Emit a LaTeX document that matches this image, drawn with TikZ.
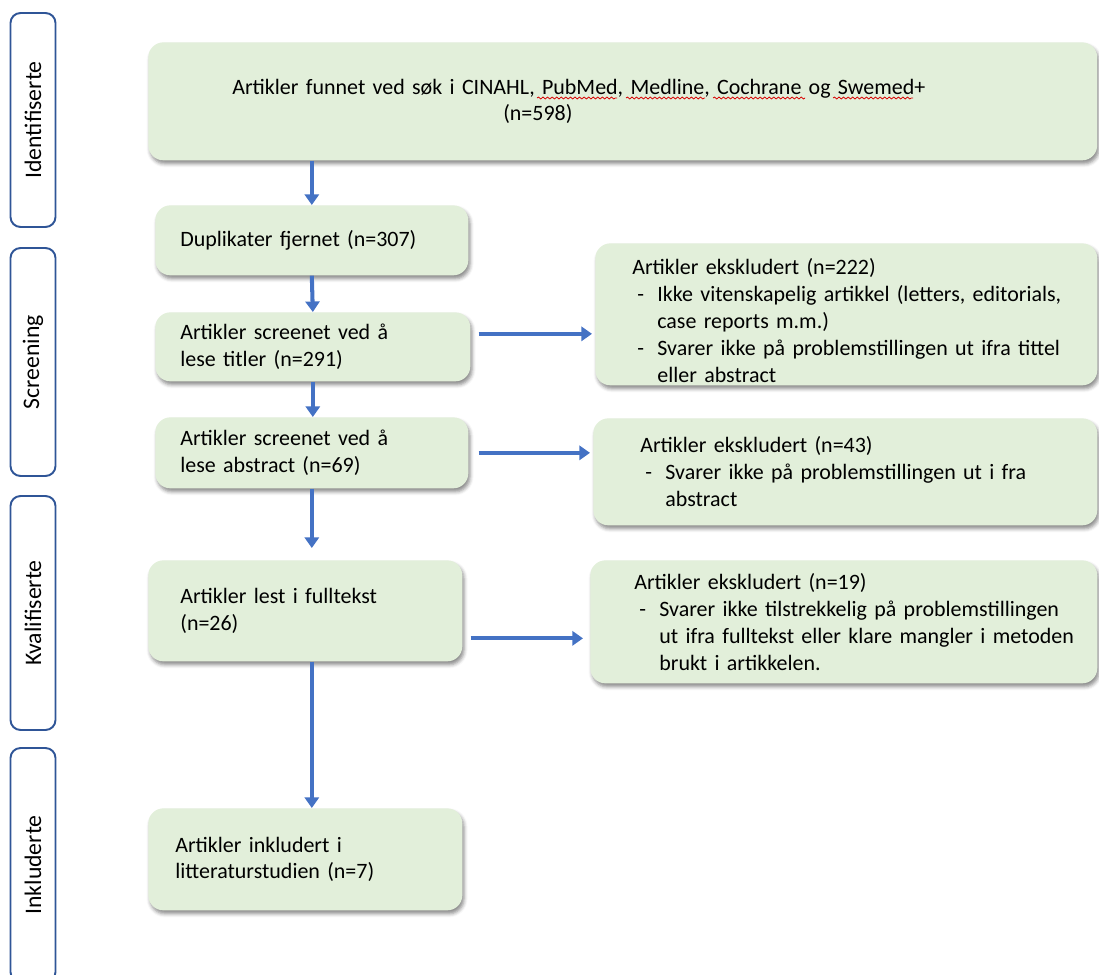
\documentclass[tikz,border=0pt]{standalone}
\usepackage{fontspec}
\setmainfont{Carlito}
\usetikzlibrary{shadows,shadows.blur,arrows.meta,calc,decorations.pathmorphing}
\definecolor{boxgreen}{HTML}{E2EFDA}
\definecolor{flowblue}{HTML}{4472C4}
\definecolor{phaseblue}{HTML}{2F5597}
\newcommand{\exitem}[1]{\mbox{\makebox[0.5cm][l]{\hspace{0.1cm}-}#1}}
\newcommand{\exmore}[1]{\mbox{\hspace*{0.5cm}#1}}
\tikzstyle{stage}=[anchor=north west, rounded corners=0.3cm, fill=boxgreen, align=left, inner ysep=0pt,
  blur shadow={shadow xshift=1pt, shadow yshift=-2pt, shadow blur radius=2pt, shadow opacity=45},
  font=\fontsize{12.5}{15.3}\selectfont]
\tikzstyle{phase}=[draw=phaseblue, line width=1.1pt, rounded corners=0.2cm, rotate=90,
  minimum height=0.9cm, inner sep=0pt, font=\fontsize{13.5}{16}\selectfont]
\tikzstyle{flow}=[draw=flowblue, line width=2.3pt, -{Triangle[length=6pt,width=8pt]}]
\tikzstyle{spell}=[draw=red!85!black, line width=0.45pt, decorate,
  decoration={snake, amplitude=0.55pt, segment length=2.6pt}]

\begin{document}
\begin{tikzpicture}[x=0.02cm, y=-0.02cm]
    \useasboundingbox (0,0) rectangle (1099,974);

    % phases on the left
    \node[phase, minimum width=4.28cm] (identph) at (33,120) {Identifiserte};
    \node[phase, minimum width=4.56cm] (screenph) at (33,362) {Screening};
    \node[phase, minimum width=4.68cm] (kvalph) at (33,613) {Kvalifiserte};
    \node[phase, minimum width=4.68cm] (inklph) at (33,865) {Inkluderte};

    % main flow
    \node[stage, minimum height=2.36cm, inner xsep=1.68cm, text width=15.62cm] (found) at (148,42)
        {Artikler funnet ved søk i CINAHL, PubMed, Medline, Cochrane og Swemed+\\\hspace*{5.42cm}(n=598)};
    \node[stage, minimum height=1.4cm, inner xsep=0.5cm, text width=5.26cm] (dup) at (155,205)
        {Duplikater fjernet (n=307)};
    \node[stage, minimum height=1.38cm, inner xsep=0.5cm, text width=5.3cm] (titles) at (155,312)
        {Artikler screenet ved å\\lese titler (n=291)};
    \node[stage, minimum height=1.42cm, inner xsep=0.5cm, text width=5.26cm] (abstr) at (155,417)
        {Artikler screenet ved å\\lese abstract (n=69)};
    \node[stage, minimum height=2.02cm, inner xsep=0.64cm, text width=5cm] (full) at (148,560)
        {Artikler lest i fulltekst\\(n=26)};
    \node[stage, minimum height=2.04cm, inner xsep=0.54cm, text width=5.2cm] (incl) at (148,808)
        {Artikler inkludert i\\litteraturstudien (n=7)};

    % excluded
    \node[stage, minimum height=2.84cm, inner xsep=0.74cm, text width=8.56cm] (ex222) at (595,243)
        {\rule{0pt}{16pt}Artikler ekskludert (n=222)\\
         \exitem{Ikke vitenskapelig artikkel (letters, editorials,}\\
         \exmore{case reports m.m.)}\\
         \exitem{Svarer ikke på problemstillingen ut ifra tittel}\\
         \exmore{eller abstract}};
    \node[stage, minimum height=2.14cm, inner xsep=0.94cm, text width=8.2cm] (ex43) at (593,418)
        {Artikler ekskludert (n=43)\\
         \exitem{Svarer ikke på problemstillingen ut i fra}\\
         \exmore{abstract}};
    \node[stage, minimum height=2.46cm, inner xsep=0.88cm, text width=8.38cm] (ex19) at (590,560)
        {Artikler ekskludert (n=19)\\
         \exitem{Svarer ikke tilstrekkelig på problemstillingen}\\
         \exmore{ut ifra fulltekst eller klare mangler i metoden}\\
         \exmore{brukt i artikkelen.}};

    % spelling marks
    \foreach \from/\to in {537/617, 626/705, 713/805, 833/913}
        \draw[spell] (\from,98) -- (\to,98);

    % arrows
    \draw[flow] (found.south -| dup.north) -- (dup.north);
    \draw[flow] (dup.south) -- (titles.north);
    \draw[flow] (titles.south) -- (titles.south |- abstr.north);
    \draw[flow, shorten >=0.24cm] (abstr.south) -- (abstr.south |- full.north);
    \draw[flow] (full.south -| abstr.south) -- (incl.north -| abstr.south);
    \draw[flow] ($(titles.east)+(8,-13)$) -- ($(ex222.west |- titles.east)+(-3,-13)$);
    \draw[flow] ($(abstr.east)+(10,0)$) -- ($(ex43.west |- abstr.east)+(-3,0)$);
    \draw[flow] ($(full.east)+(8,27.5)$) -- ($(ex19.west |- full.east)+(-7,27.5)$);
\end{tikzpicture}
\end{document}
